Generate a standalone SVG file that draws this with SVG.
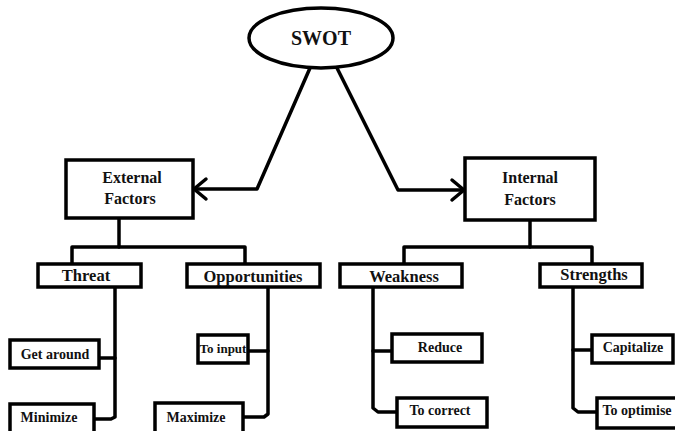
<svg xmlns="http://www.w3.org/2000/svg" width="675" height="431" viewBox="0 0 675 431" font-family="'Liberation Serif', 'DejaVu Serif', serif">
<style>
.box{fill:#fff;stroke:#000;stroke-width:3.5}
.ln{fill:none;stroke:#000;stroke-width:3.5;stroke-linejoin:round;stroke-linecap:round}
text{font-family:'Liberation Serif','DejaVu Serif',serif;font-weight:bold;fill:#111;text-anchor:middle}
.t1{font-size:16px}
.t2{font-size:16.5px}
.t3{font-size:14px}
</style>
<rect width="675" height="431" fill="#fff"/>
<g id="connectors">
<polyline class="ln" points="310,68 257,189 195,189"/>
<polyline class="ln" points="206,179 194,189 206,199"/>
<polyline class="ln" points="337,68 398,190 463,190"/>
<polyline class="ln" points="452,180 464,190 452,200"/>
<polyline class="ln" points="119,218 119,247"/>
<polyline class="ln" points="72,264 72,247 245,247 245,264"/>
<polyline class="ln" points="530,220 530,247"/>
<polyline class="ln" points="404,264 404,247 592,247 592,264"/>
<polyline class="ln" points="115,287 115,417 111,419 94,419"/>
<polyline class="ln" points="99,358 115,358"/>
<polyline class="ln" points="268,287 268,414 264,417 243,417"/>
<polyline class="ln" points="248,351 268,351"/>
<polyline class="ln" points="373,287 373,408 378,412 397,412"/>
<polyline class="ln" points="373,351 392,351"/>
<polyline class="ln" points="573,287 573,408 578,412 597,412"/>
<polyline class="ln" points="573,350 592,350"/>
</g>
<g id="swot">
<ellipse class="box" cx="321" cy="38" rx="72" ry="30"/>
<text x="321" y="45" style="font-size:20px">SWOT</text>
</g>
<g id="external">
<rect class="box" x="66" y="160" width="127" height="58"/>
<text class="t1" x="132" y="183">External</text>
<text class="t1" x="130" y="204">Factors</text>
</g>
<g id="internal">
<rect class="box" x="465" y="158" width="130" height="62"/>
<text class="t1" x="530" y="183">Internal</text>
<text class="t1" x="530" y="205">Factors</text>
</g>
<g id="threat">
<rect class="box" x="38" y="264" width="103" height="23"/>
<text class="t2" x="86" y="281">Threat</text>
</g>
<g id="opportunities">
<rect class="box" x="187" y="264" width="133" height="23"/>
<text class="t2" x="253" y="282">Opportunities</text>
</g>
<g id="weakness">
<rect class="box" x="340" y="264" width="122" height="23"/>
<text class="t2" x="404" y="282">Weakness</text>
</g>
<g id="strengths">
<rect class="box" x="540" y="264" width="102" height="23"/>
<text class="t2" x="594" y="280">Strengths</text>
</g>
<g id="getaround">
<rect class="box" x="10" y="340" width="89" height="28"/>
<text class="t3" x="55" y="359">Get around</text>
</g>
<g id="minimize">
<rect class="box" x="10" y="404" width="84" height="30"/>
<text class="t3" x="49" y="422">Minimize</text>
</g>
<g id="toinput">
<rect class="box" x="198" y="335" width="50" height="28"/>
<text x="223" y="353" style="font-size:13px">To input</text>
</g>
<g id="maximize">
<rect class="box" x="155" y="403" width="88" height="30"/>
<text class="t3" x="196" y="422">Maximize</text>
</g>
<g id="reduce">
<rect class="box" x="392" y="334" width="90" height="28"/>
<text class="t3" x="440" y="352">Reduce</text>
</g>
<g id="tocorrect">
<rect class="box" x="397" y="398" width="90" height="29"/>
<text class="t3" x="440" y="415">To correct</text>
</g>
<g id="capitalize">
<rect class="box" x="592" y="335" width="81" height="28"/>
<text class="t3" x="633" y="352">Capitalize</text>
</g>
<g id="tooptimise">
<rect class="box" x="597" y="398" width="82" height="30"/>
<text class="t3" x="637" y="415">To optimise</text>
</g>
</svg>
